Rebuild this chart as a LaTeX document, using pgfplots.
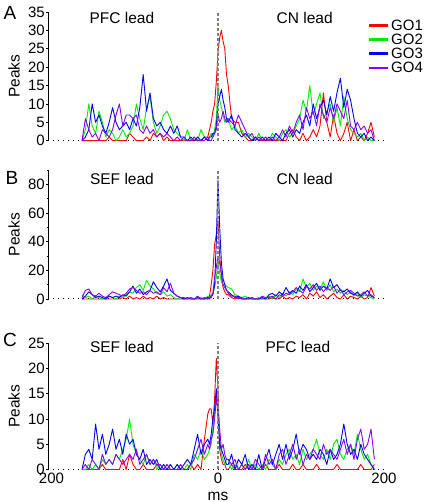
\documentclass[border=0pt]{standalone}
\usepackage{fontspec}
\setmainfont{Liberation Sans}
\usepackage{pgfplots}
\usepackage{pgfplotstable}
\pgfplotsset{compat=1.18}
\definecolor{cRed}{RGB}{255,0,0}
\definecolor{cGreen}{RGB}{0,235,0}
\definecolor{cBlue}{RGB}{0,0,255}
\definecolor{cPurple}{RGB}{136,0,255}

\pgfplotstableread{
x r g b p
-160 0 0 0 0
-156 0 3 1 6
-152 0 10 3 3
-148 0 4 10 1
-144 0 2 5 2
-140 0 8 7 0
-136 0 5 4 3
-132 0 1 2 2
-128 1 3 5 1
-124 0 2 9 3
-120 0 0 5 7
-116 0 1 3 10
-112 0 3 4 4
-108 0 1 5 7
-104 2 2 3 7
-100 1 4 6 6
-96 0 10 4 7
-92 0 6 9 3
-88 0 3 18 2
-84 1 9 8 4
-80 0 12 13 2
-76 2 5 6 3
-72 1 2 4 1
-68 2 4 5 2
-64 0 7 3 1
-60 1 8 2 2
-56 0 6 4 1
-52 0 3 2 0
-48 0 2 4 1
-44 0 1 1 0
-40 0 0 1 1
-36 0 3 0 0
-32 0 0 1 0
-28 0 1 0 1
-24 0 0 1 0
-20 0 3 0 0
-16 1 1 1 0
-12 1 0 0 1
-10 3 1 1 0
-8 5 2 1 0
-6 8 1 2 1
-4 10 3 2 2
-2 16 6 4 3
0 24 15 10 7
2 28 11 12 5
4 30 9 14 6
6 27 7 11 8
8 25 5 9 6
10 18 6 6 5
12 15 6 5 6
16 6 3 7 5
20 5 4 3 4
24 5 2 2 7
28 2 3 1 5
32 1 1 2 3
36 0 2 1 1
40 0 1 0 2
44 1 0 1 0
48 0 2 0 1
52 0 0 1 0
56 0 1 0 1
60 0 0 1 0
64 0 2 0 1
68 0 1 2 0
72 0 0 1 1
76 0 2 0 3
80 0 3 2 1
84 2 1 3 4
88 3 2 1 2
92 1 4 3 5
96 0 6 2 7
100 2 11 5 3
104 0 8 7 9
108 1 15 4 6
112 3 7 10 8
116 1 10 6 4
120 4 13 9 10
124 13 6 11 7
128 5 8 7 5
132 1 10 12 9
136 7 5 8 6
140 2 9 13 10
144 0 4 17 8
148 2 12 9 6
152 5 6 14 11
156 0 3 11 4
160 3 2 6 3
164 0 1 2 5
168 1 2 1 3
172 0 0 2 4
176 2 1 0 2
180 5 0 1 3
184 1 0 0 0
}\tabA

\pgfplotstableread{
x r g b p
-160 0 3 0 1
-156 0 1 2 6
-152 0 2 5 7
-148 0 0 3 3
-144 0 2 1 2
-140 0 1 2 4
-136 0 0 1 2
-132 0 1 0 1
-128 0 2 2 3
-124 0 1 1 5
-120 0 0 2 4
-116 0 2 1 3
-112 1 1 3 2
-108 0 3 2 4
-104 2 5 5 7
-100 0 4 9 8
-96 1 8 4 6
-92 0 10 7 4
-88 2 6 3 5
-84 0 13 5 3
-80 1 9 6 6
-76 0 7 12 4
-72 2 4 8 5
-68 0 3 5 3
-64 1 5 9 8
-60 0 2 14 5
-56 0 3 6 11
-52 0 1 4 4
-48 0 0 2 2
-44 0 1 1 1
-40 0 0 0 1
-36 0 0 1 0
-32 0 1 0 1
-28 0 0 0 0
-24 0 0 1 2
-20 0 1 0 0
-16 0 0 0 1
-12 0 2 1 0
-10 2 1 0 1
-8 10 3 2 1
-6 20 4 3 4
-4 38 8 10 15
-2 45 15 40 22
0 55 25 83 30
2 30 18 50 25
4 15 12 25 18
6 8 10 14 10
8 5 10 10 8
10 3 9 6 6
12 3 8 5 4
16 1 7 3 2
20 0 3 1 2
24 1 2 2 0
28 0 1 0 1
32 0 2 0 0
36 0 0 1 0
40 0 1 0 1
44 0 0 0 0
48 0 1 0 0
52 0 0 1 2
56 0 1 0 1
60 0 2 3 1
64 1 0 4 2
68 0 3 2 0
72 0 1 5 3
76 2 4 3 2
80 0 2 8 4
84 1 5 4 3
88 0 3 6 5
92 2 7 4 8
96 1 5 9 6
100 3 14 6 4
104 0 8 10 9
108 4 11 5 7
112 2 6 8 10
116 5 9 11 6
120 1 7 6 9
124 3 12 9 5
128 0 6 7 8
132 2 10 14 6
136 4 5 8 9
140 1 7 10 4
144 0 4 6 7
148 3 6 5 3
152 0 3 7 5
156 2 5 4 6
160 1 2 3 4
164 0 4 5 2
168 2 1 2 3
172 0 3 4 5
176 1 2 6 2
180 8 1 2 3
184 2 0 1 1
}\tabB

\pgfplotstableread{
x r g b p
-160 0 0 0 0
-156 0 0 3 1
-152 0 1 4 0
-148 0 0 2 2
-144 0 1 9 1
-140 0 0 4 0
-136 1 2 7 3
-132 0 1 3 1
-128 0 2 5 2
-124 0 1 8 1
-120 0 3 4 3
-116 0 2 6 2
-112 2 4 3 1
-108 0 6 7 2
-104 3 10 5 3
-100 1 5 6 2
-96 0 3 3 4
-92 0 2 2 1
-88 1 1 4 2
-84 0 3 1 3
-80 0 1 2 1
-76 0 2 1 2
-72 1 0 2 1
-68 0 1 0 1
-64 0 0 1 0
-60 0 1 0 1
-56 0 0 1 0
-52 0 0 0 0
-48 0 1 1 0
-44 0 0 0 1
-40 0 0 1 0
-36 0 1 2 0
-32 1 0 1 1
-28 0 3 4 2
-24 1 2 7 4
-20 0 4 3 6
-16 6 2 5 3
-12 11 3 6 5
-10 12 4 5 4
-8 12 5 7 6
-6 9 8 10 7
-4 14 11 12 10
-2 22 15 16 14
0 16 13 10 12
2 4 6 5 8
4 2 3 4 4
6 1 2 3 5
8 1 1 2 3
10 0 2 1 2
12 0 2 1 2
16 1 0 3 1
20 0 1 0 2
24 0 0 2 0
28 0 1 1 1
32 1 0 3 0
36 0 2 0 1
40 0 0 1 0
44 0 1 0 2
48 0 0 3 1
52 0 1 0 0
56 1 0 2 3
60 0 2 4 1
64 0 1 1 2
68 0 0 3 0
72 1 2 5 3
76 0 1 2 4
80 0 3 5 1
84 0 4 2 3
88 1 2 4 5
92 0 3 7 2
96 0 1 3 4
100 1 4 5 1
104 0 2 4 3
108 0 3 2 2
112 0 4 3 4
116 1 6 2 3
120 0 3 4 2
124 0 2 3 5
128 0 4 1 3
132 0 2 4 4
136 0 5 2 3
140 1 6 3 2
144 0 3 5 4
148 0 2 9 6
152 0 4 5 3
156 0 5 3 5
160 0 3 4 2
164 0 7 2 6
168 1 4 5 8
172 0 2 3 4
176 0 3 2 5
180 0 1 1 8
184 1 0 0 2
}\tabC

\tikzset{lead/.style={font=\fontsize{15.5}{15.5}\selectfont, anchor=center}}
\pgfplotsset{
 panel/.style={
  scale only axis, width=340pt,
  xmin=-200, xmax=200, ymin=0,
  axis x line*=bottom, axis y line*=left,
  axis line style={-},
  x axis line style={line width=1pt, dash pattern=on 0.9pt off 4.1pt},
  y axis line style={line width=0.8pt},
  tick style={black, line width=0.8pt},
  tick align=center, major tick length=3pt, minor tick length=2pt,
  /pgf/number format/assume math mode=true,
  ticklabel style={font=\fontsize{15}{15}\selectfont},
  yticklabel style={inner sep=1.5pt},
  ylabel={Peaks},
  every axis y label/.style={at={(axis description cs:-0.1,0.5)}, rotate=90, anchor=center,
     font=\fontsize{15.5}{15.5}\selectfont},
  xtick=\empty,
  clip=false,
  every axis plot/.append style={line width=0.9pt, line join=round},
 },
 zeroline/.style={gray, line width=1.3pt, dash pattern=on 3pt off 2pt, forget plot},
}

\begin{document}
\begin{tikzpicture}
\path[use as bounding box] (-48pt,0pt) rectangle (377pt,502pt);

% Panel A
\begin{axis}[panel, at={(0pt,361.3pt)}, anchor=south west, height=128.7pt,
  ymax=35, ytick={0,5,...,35},
  legend style={at={(0.932,0.969)}, anchor=north west, draw=none, fill=none,
    font=\fontsize{15}{15}\selectfont, row sep=0pt,
    nodes={inner sep=1.5pt, text height=10.5pt, text depth=0.7pt}},
  legend cell align=left,
  legend image code/.code={\draw[line width=2.6pt] (0pt,0pt) -- (19pt,0pt);},
]
\addplot[cRed] table[x=x,y=r] {\tabA}; \addlegendentry{GO1}
\addplot[cGreen] table[x=x,y=g] {\tabA}; \addlegendentry{GO2}
\addplot[cBlue] table[x=x,y=b] {\tabA}; \addlegendentry{GO3}
\addplot[cPurple] table[x=x,y=p] {\tabA}; \addlegendentry{GO4}
\addplot[zeroline] coordinates {(0,0) (0,35)};
\node[lead] at (axis cs:-113,33.4) {PFC lead};
\node[lead] at (axis cs:102,33.4) {CN lead};
\end{axis}

% Panel B
\begin{axis}[panel, at={(0pt,203pt)}, anchor=south west, height=129pt,
  ymax=90, ytick={0,20,...,80}, minor y tick num=1,
  extra y ticks={90}, extra y tick labels={}, extra y tick style={major tick length=2pt},
]
\addplot[cRed] table[x=x,y=r] {\tabB};
\addplot[cGreen] table[x=x,y=g] {\tabB};
\addplot[cBlue] table[x=x,y=b] {\tabB};
\addplot[cPurple] table[x=x,y=p] {\tabB};
\addplot[zeroline] coordinates {(0,0) (0,90)};
\node[lead] at (axis cs:-113,83.5) {SEF lead};
\node[lead] at (axis cs:102,83.5) {CN lead};
\end{axis}

% Panel C
\begin{axis}[panel, at={(0pt,32.5pt)}, anchor=south west, height=126.2pt,
  ymax=25, ytick={0,5,...,25},
  xtick={-200,0,200}, xticklabels={\hspace*{7pt}200,0,200\hspace*{8pt}},
  xticklabel style={inner sep=1pt, yshift=-0.5pt},
  x tick style={draw=none},
  xlabel={ms},
  every axis x label/.style={at={(axis description cs:0.5,0)}, anchor=center, yshift=-26.5pt,
     font=\fontsize{15.5}{15.5}\selectfont},
]
\addplot[cRed] table[x=x,y=r] {\tabC};
\addplot[cGreen] table[x=x,y=g] {\tabC};
\addplot[cBlue] table[x=x,y=b] {\tabC};
\addplot[cPurple] table[x=x,y=p] {\tabC};
\addplot[zeroline] coordinates {(0,0) (0,25)};
\node[lead] at (axis cs:-113,24.2) {SEF lead};
\node[lead] at (axis cs:94,24.2) {PFC lead};
\end{axis}

\node[font=\fontsize{19}{19}\selectfont] at (-38pt,489pt) {A};
\node[font=\fontsize{19}{19}\selectfont] at (-36pt,324pt) {B};
\node[font=\fontsize{19}{19}\selectfont] at (-38pt,162pt) {C};
\end{tikzpicture}
\end{document}
